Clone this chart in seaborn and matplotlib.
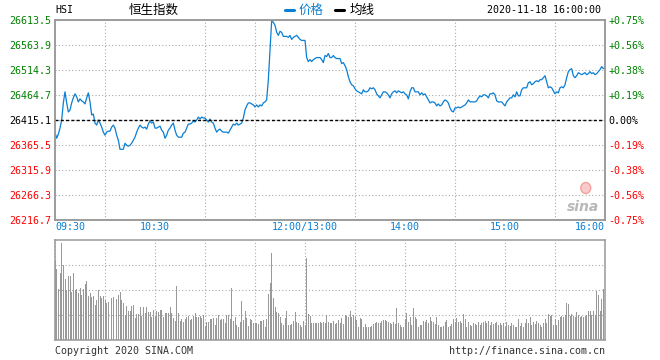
import numpy as np
import pandas as pd
import matplotlib
matplotlib.use('Agg')
import matplotlib.pyplot as plt
import seaborn as sns
from matplotlib.lines import Line2D
from matplotlib.patches import Ellipse

# ---- data ----
prev_close = 26415.1
price = [
    26391, 26379, 26387, 26399, 26415, 26449, 26471, 26449, 26431, 26435,
    26449, 26459, 26467, 26461, 26451, 26457, 26453, 26451, 26447, 26459,
    26469, 26451, 26425, 26427, 26409, 26405, 26415, 26409, 26401, 26391,
    26385, 26391, 26393, 26393, 26401, 26405, 26399, 26385, 26375, 26357,
    26357, 26357, 26369, 26365, 26363, 26365, 26369, 26375, 26381, 26391,
    26399, 26405, 26401, 26399, 26401, 26397, 26407, 26413, 26409, 26411,
    26399, 26399, 26401, 26403, 26395, 26391, 26379, 26385, 26395, 26399,
    26405, 26409, 26395, 26385, 26381, 26381, 26381, 26389, 26391, 26399,
    26407, 26407, 26409, 26413, 26411, 26415, 26421, 26417, 26421, 26419,
    26419, 26415, 26411, 26417, 26411, 26409, 26399, 26391, 26395, 26397,
    26393, 26391, 26391, 26391, 26389, 26395, 26401, 26407, 26405, 26409,
    26405, 26407, 26409, 26419, 26435, 26443, 26449, 26449, 26447, 26445,
    26441, 26445, 26441, 26445, 26443, 26449, 26451, 26455, 26495, 26555,
    26612, 26609, 26603, 26589, 26583, 26591, 26589, 26581, 26581, 26581,
    26579, 26583, 26575, 26579, 26581, 26583, 26579, 26575, 26573, 26573,
    26573, 26539, 26531, 26535, 26531, 26535, 26537, 26539, 26539, 26539,
    26535, 26529, 26543, 26541, 26547, 26539, 26539, 26543, 26539, 26537,
    26537, 26537, 26527, 26529, 26523, 26515, 26501, 26491, 26485, 26483,
    26477, 26473, 26471, 26469, 26467, 26475, 26471, 26471, 26473, 26479,
    26477, 26479, 26475, 26467, 26463, 26459, 26465, 26471, 26471, 26469,
    26465, 26459, 26467, 26471, 26473, 26469, 26473, 26471, 26469, 26471,
    26467, 26465, 26457, 26471, 26479, 26479, 26471, 26471, 26471, 26465,
    26469, 26465, 26467, 26461, 26455, 26449, 26451, 26451, 26449, 26443,
    26447, 26443, 26445, 26451, 26455, 26453, 26449, 26439, 26433, 26431,
    26439, 26439, 26441, 26439, 26441, 26443, 26445, 26449, 26455, 26451,
    26451, 26451, 26451, 26453, 26459, 26463, 26461, 26465, 26465, 26463,
    26459, 26467, 26467, 26469, 26465, 26453, 26451, 26451, 26451, 26447,
    26443, 26451, 26455, 26459, 26459, 26465, 26461, 26471, 26463, 26463,
    26475, 26479, 26479, 26479, 26489, 26491, 26485, 26487, 26491, 26493,
    26491, 26495, 26495, 26499, 26503, 26491, 26479, 26481, 26479, 26473,
    26467, 26471, 26469, 26479, 26481, 26479, 26485, 26499, 26511, 26515,
    26517, 26503, 26499, 26503, 26509, 26507, 26505, 26507, 26509, 26505,
    26507, 26511, 26507, 26509, 26505, 26507, 26511, 26515, 26521, 26517, 26519,
]

volume = [
    79, 71, 51, 67, 97, 75, 61, 50, 64, 64, 48, 67, 50, 51, 47, 52, 45, 51, 56, 59,
    44, 47, 43, 44, 35, 40, 50, 44, 42, 44,
    40, 37, 38, 41, 42, 43, 37, 41, 45, 48, 40, 37, 25, 34, 29, 29, 34, 35, 22, 26,
    26, 33, 24, 33, 27, 33, 28, 28, 23, 30,
    24, 29, 28, 30, 30, 23, 27, 27, 27, 33, 27, 22, 19, 54, 27, 19, 21, 18, 21, 23,
    24, 20, 21, 24, 27, 23, 23, 24, 22, 25,
    14, 18, 18, 21, 21, 22, 15, 22, 25, 20, 21, 21, 17, 25, 25, 21, 52, 19, 23, 15,
    13, 18, 39, 20, 29, 22, 14, 21, 20, 17,
    17, 17, 16, 19, 19, 20, 13, 21, 46, 57, 87, 42, 33, 28, 27, 23, 17, 15, 22, 29,
    15, 15, 16, 19, 28, 18, 17, 15, 13, 19,
    15, 82, 26, 24, 17, 17, 17, 17, 17, 18, 17, 18, 17, 25, 18,
    17, 17, 19, 16, 17, 20, 17, 22, 16, 25, 24, 23, 29, 23, 25, 23, 20, 13, 22, 21,
    13, 16, 13, 13, 13, 14, 16, 17, 18, 17, 17, 19, 20, 20, 19, 18, 17, 16, 18, 16,
    32, 17, 15, 13, 13, 21, 27, 18, 23, 15, 32, 23, 21, 13, 15, 15, 19, 18, 20, 17,
    23, 19, 18, 16, 23, 15, 13, 13, 14, 18, 20, 13, 14, 16, 21, 18, 22, 18, 19, 17,
    26, 21, 13, 18, 15, 14, 17, 16, 15, 18, 15, 17, 18, 19, 17, 19, 15, 18, 16, 17,
    18, 15, 17, 15, 17, 13, 18, 15, 14, 17, 15, 13, 13, 21, 14, 17, 13, 17, 21, 17,
    23, 15, 18, 16, 19, 17, 15, 13, 17, 21, 17, 26, 24, 25, 15, 21, 15, 20, 23, 24,
    23, 25, 37, 36, 24, 26, 24, 23, 28, 25, 23, 24, 23, 24, 25, 29, 29, 25, 29, 25,
    49, 45, 29, 41, 51, 46,
]

price_levels = [26613.5, 26563.9, 26514.3, 26464.7, 26415.1,
                26365.5, 26315.9, 26266.3, 26216.7]
price_labels = ['26613.5', '26563.9', '26514.3', '26464.7', '26415.1',
                '26365.5', '26315.9', '26266.3', '26216.7']
pct_labels = ['+0.75%', '+0.56%', '+0.38%', '+0.19%', '0.00%',
              '-0.19%', '-0.38%', '-0.56%', '-0.75%']
time_ticks = [0, 60, 150, 210, 270, 330]
time_labels = ['09:30', '10:30', '12:00/13:00', '14:00', '15:00', '16:00']

# ---- style ----
GREEN = '#008000'
RED = '#ff0000'
BLUE = '#0a7fd4'
GRAY = '#999999'
GRID = '#aaaaaa'
MONO = ['DejaVu Sans Mono', 'Noto Sans CJK SC']
CJK = ['Noto Sans CJK SC', 'DejaVu Sans']

sns.set_style('white')
plt.rcParams['font.family'] = MONO

W, H = 660, 360
def fx(px):
    return px / W
def fy(py):
    return 1 - py / H

fig = plt.figure(figsize=(6.6, 3.6), dpi=100)
ax = fig.add_axes([fx(55), fy(220), 550 / W, 200 / H])
axv = fig.add_axes([fx(55), fy(340), 550 / W, 100 / H])

df = pd.DataFrame({'minute': np.arange(len(price)), 'price': price})
vf = pd.DataFrame({'minute': np.arange(len(volume)), 'volume': volume})

# price line
sns.lineplot(data=df, x='minute', y='price', ax=ax, color=BLUE, lw=0.9)
ax.axhline(prev_close, color='black', lw=1.0, ls=(0, (2.2, 1.6)), zorder=3)

ax.set_xlim(0, 330)
ax.set_ylim(price_levels[-1], price_levels[0])
ax.set_xlabel('')
ax.set_ylabel('')
ax.set_xticks(range(0, 331, 30), minor=True)
ax.set_xticks(time_ticks)
ax.set_xticklabels(time_labels, fontsize=7.2, color=BLUE)
xl = ax.get_xticklabels()
xl[0].set_ha('left')
xl[-1].set_ha('right')
ax.set_yticks(price_levels)
ax.set_yticklabels(price_labels, fontsize=7.2)
for lbl, v in zip(ax.get_yticklabels(), price_levels):
    lbl.set_color(GREEN if v > prev_close else (RED if v < prev_close else 'black'))
ax.tick_params(which='both', length=0)
ax.tick_params(axis='y', pad=2.5)
ax.tick_params(axis='x', pad=1.5)
ax.grid(which='minor', axis='x', color=GRID, ls=(0, (1, 2)), lw=0.8)
ax.grid(which='major', axis='y', color=GRID, ls=(0, (1, 2)), lw=0.8)
ax.grid(which='major', axis='x', visible=False)

ax2 = ax.twinx()
ax2.set_ylim(price_levels[-1], price_levels[0])
ax2.set_yticks(price_levels)
ax2.set_yticklabels(pct_labels, fontsize=7.2)
for lbl, v in zip(ax2.get_yticklabels(), price_levels):
    lbl.set_color(GREEN if v > prev_close else (RED if v < prev_close else 'black'))
ax2.tick_params(length=0, pad=2.5)
ax2.grid(False)

# volume bars
sns.barplot(data=vf, x='minute', y='volume', ax=axv, native_scale=True,
            color=GRAY, saturation=1, width=0.6, errorbar=None, linewidth=0)
axv.set_xlim(0, 330)
axv.set_ylim(0, 100)
axv.set_xlabel('')
axv.set_ylabel('')
axv.set_xticks(range(0, 331, 30))
axv.set_xticklabels([])
axv.set_yticks([25, 50, 75])
axv.set_yticklabels([])
axv.tick_params(length=0)
axv.grid(True, color=GRID, ls=(0, (1, 2)), lw=0.8)
axv.set_axisbelow(True)

for a in (ax, ax2, axv):
    for s in a.spines.values():
        s.set_color(GRAY)
        s.set_linewidth(1.1)

# watermark
ax.text(0.99, 0.03, 'sina', transform=ax.transAxes, ha='right', va='bottom',
        fontsize=10, fontstyle='italic', fontweight='bold', color='#b8b8b8',
        family=['DejaVu Sans'])
ax.add_patch(Ellipse((0.965, 0.16), 0.018, 0.055, transform=ax.transAxes,
                     facecolor='#f8caca', edgecolor='#f3a0a0', lw=1.0))

# header
fig.text(fx(55), fy(10), 'HSI', ha='left', va='center', fontsize=7.2, color='black')
fig.text(fx(154), fy(10), '恒生指数', ha='center', va='center', fontsize=9,
         family=CJK, color='black')
fig.add_artist(Line2D([fx(285), fx(294)], [fy(10), fy(10)], color=BLUE, lw=2.2,
                      transform=fig.transFigure))
fig.text(fx(299), fy(10), '价格', ha='left', va='center', fontsize=9,
         family=CJK, color=BLUE)
fig.add_artist(Line2D([fx(335), fx(344)], [fy(10), fy(10)], color='black', lw=2.2,
                      transform=fig.transFigure))
fig.text(fx(350), fy(10), '均线', ha='left', va='center', fontsize=9,
         family=CJK, color='black')
fig.text(fx(601), fy(10), '2020-11-18 16:00:00', ha='right', va='center',
         fontsize=7.2, color='black')

# footer
fig.text(fx(55), fy(351), 'Copyright 2020 SINA.COM', ha='left', va='center',
         fontsize=7.2, color='#333333')
fig.text(fx(605), fy(351), 'http://finance.sina.com.cn', ha='right', va='center',
         fontsize=7.2, color='#333333')

fig.savefig('out.png', dpi=100, facecolor='white')
